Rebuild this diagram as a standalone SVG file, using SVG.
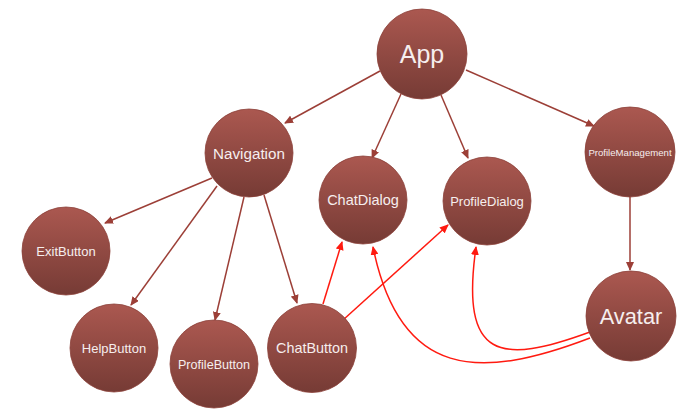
<svg xmlns="http://www.w3.org/2000/svg" width="700" height="414" viewBox="0 0 700 414">
<defs>
<linearGradient id="g" x1="0" y1="0" x2="0" y2="1">
<stop offset="0" stop-color="#ab5850"/>
<stop offset="1" stop-color="#763b35"/>
</linearGradient>
<marker id="ad" markerWidth="9" markerHeight="8" refX="8" refY="4" orient="auto" markerUnits="userSpaceOnUse">
<path d="M0,0 L9,4 L0,8 z" fill="#9c3f37"/>
</marker>
<marker id="ar" markerWidth="9" markerHeight="8" refX="8" refY="4" orient="auto" markerUnits="userSpaceOnUse">
<path d="M0,0 L9,4 L0,8 z" fill="#ff1a10"/>
</marker>
</defs>
<style>
.n circle{fill:url(#g);stroke:#8b4038;stroke-width:0.8}
.n text{fill:#f6eeee;font-family:"Liberation Sans",Arial,sans-serif;text-anchor:middle}
.d{fill:none;stroke:#9c3f37;stroke-width:1.5;marker-end:url(#ad)}
.r{fill:none;stroke:#ff1a10;stroke-width:1.5;marker-end:url(#ar)}
</style>
<g id="connectors">
<line class="d" x1="380" y1="71" x2="285" y2="123"/>
<line class="d" x1="401" y1="94" x2="372" y2="158"/>
<line class="d" x1="441" y1="95" x2="468" y2="158"/>
<line class="d" x1="466" y1="70" x2="594" y2="126"/>
<line class="d" x1="630" y1="197" x2="630" y2="270"/>
<line class="d" x1="212" y1="178" x2="105" y2="223"/>
<line class="d" x1="217" y1="186" x2="131" y2="305"/>
<line class="d" x1="244" y1="197" x2="215" y2="320"/>
<line class="d" x1="264" y1="195" x2="297" y2="303"/>
<line class="r" x1="323" y1="304" x2="342" y2="242"/>
<line class="r" x1="343" y1="320" x2="448" y2="225"/>
<path class="r" d="M590 332 C500 365, 460 360, 476 247"/>
<path class="r" d="M590 338 C480 380, 400 380, 373 247"/>
</g>
<g id="App" class="n"><circle cx="422" cy="54" r="45"/><text x="422" y="63" font-size="25">App</text></g>
<g id="Navigation" class="n"><circle cx="249" cy="153" r="44"/><text x="249" y="158.5" font-size="15.2">Navigation</text></g>
<g id="ChatDialog" class="n"><circle cx="363" cy="200" r="44"/><text x="363" y="205" font-size="14.5">ChatDialog</text></g>
<g id="ProfileDialog" class="n"><circle cx="487" cy="201" r="44"/><text x="487" y="205.5" font-size="13">ProfileDialog</text></g>
<g id="ProfileManagement" class="n"><circle cx="630" cy="152" r="45"/><text x="630" y="155.5" font-size="9.6">ProfileManagement</text></g>
<g id="ExitButton" class="n"><circle cx="66" cy="251" r="44"/><text x="66" y="255.5" font-size="13">ExitButton</text></g>
<g id="HelpButton" class="n"><circle cx="114" cy="348" r="44"/><text x="114" y="352.5" font-size="13">HelpButton</text></g>
<g id="ProfileButton" class="n"><circle cx="214" cy="364" r="44"/><text x="214" y="368.5" font-size="12.6">ProfileButton</text></g>
<g id="ChatButton" class="n"><circle cx="312" cy="348" r="44.5"/><text x="312" y="353" font-size="14.4">ChatButton</text></g>
<g id="Avatar" class="n"><circle cx="631" cy="316" r="45"/><text x="631" y="324" font-size="21.8">Avatar</text></g>
</svg>
